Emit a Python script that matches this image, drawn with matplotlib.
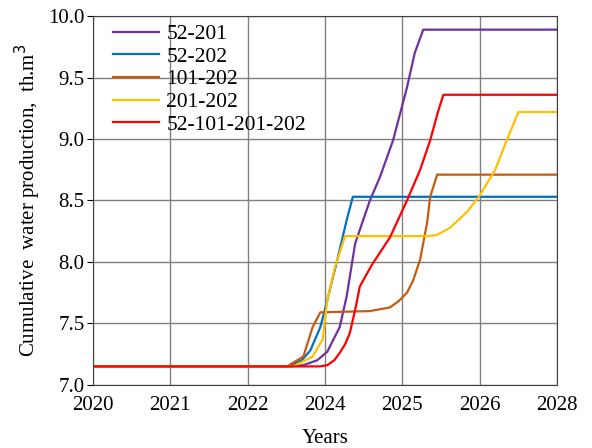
import matplotlib.pyplot as plt

plt.rcParams['font.family'] = ['Liberation Serif', 'DejaVu Serif']

tick_labels = ['2020', '2021', '2022', '2024', '2025', '2026', '2028']

# x in tick units (0 = first label, 6 = last label)
x_52_201 = [0, 2.55, 2.72, 2.90, 3.03, 3.19, 3.28, 3.39, 3.58, 3.71, 3.88, 4.06, 4.16, 4.27, 6]
y_52_201 = [7.15, 7.15, 7.16, 7.20, 7.27, 7.47, 7.72, 8.15, 8.50, 8.69, 8.99, 9.42, 9.70, 9.89, 9.89]

x_52_202 = [0, 2.52, 2.70, 2.81, 2.94, 3.03, 3.16, 3.28, 3.36, 6]
y_52_202 = [7.15, 7.15, 7.20, 7.28, 7.47, 7.69, 8.02, 8.34, 8.53, 8.53]

x_101_202 = [0, 2.51, 2.72, 2.84, 2.94, 3.58, 3.84, 3.95, 4.06, 4.14, 4.23, 4.32, 4.36, 4.45, 6]
y_101_202 = [7.15, 7.15, 7.23, 7.47, 7.59, 7.60, 7.63, 7.68, 7.75, 7.85, 8.02, 8.32, 8.53, 8.71, 8.71]

x_201_202 = [0, 2.59, 2.84, 2.97, 3.03, 3.13, 3.26, 4.32, 4.45, 4.62, 4.84, 5.00, 5.20, 5.35, 5.50, 6]
y_201_202 = [7.15, 7.15, 7.23, 7.37, 7.69, 7.96, 8.21, 8.21, 8.22, 8.28, 8.41, 8.54, 8.75, 8.99, 9.22, 9.22]

x_all = [0, 2.94, 3.03, 3.12, 3.19, 3.26, 3.32, 3.39, 3.45, 3.60, 3.84, 4.06, 4.23, 4.36, 4.46, 4.53, 6]
y_all = [7.15, 7.15, 7.16, 7.20, 7.26, 7.33, 7.42, 7.61, 7.80, 7.97, 8.20, 8.50, 8.75, 8.99, 9.22, 9.36, 9.36]

fig = plt.figure(figsize=(5.92, 4.48), dpi=100)
ax = fig.add_axes([0.157, 0.141, 0.784, 0.823])

ax.plot(x_52_201, y_52_201, color='#7030a0', lw=1.6, label='52-201')
ax.plot(x_52_202, y_52_202, color='#0070c0', lw=1.6, label='52-202')
ax.plot(x_101_202, y_101_202, color='#c55a11', lw=1.6, label='101-202')
ax.plot(x_201_202, y_201_202, color='#ffc000', lw=1.6, label='201-202')
ax.plot(x_all, y_all, color='#ff0000', lw=1.6, label='52-101-201-202')

ax.set_xlim(0, 6)
ax.set_ylim(7.0, 10.0)
ax.set_xticks(range(7))
ax.set_xticklabels(tick_labels)
ax.set_yticks([7.0, 7.5, 8.0, 8.5, 9.0, 9.5, 10.0])
ax.set_yticklabels(['7.0', '7.5', '8.0', '8.5', '9.0', '9.5', '10.0'])
ax.tick_params(axis='x', length=0, labelsize=15, pad=8)
ax.tick_params(axis='y', length=4, labelsize=15, pad=2)
ax.grid(True, color='#808080', lw=1)
for s in ax.spines.values():
    s.set_color('#404040')

ax.set_xlabel('Years', fontsize=15, labelpad=10)
ax.set_ylabel('Cumulative  water production,  th.m$^3$', fontsize=15, labelpad=4)
ax.legend(loc='upper left', bbox_to_anchor=(0.035, 0.99), frameon=False, fontsize=15.5,
          handlelength=2.1, labelspacing=0.12, borderaxespad=0, borderpad=0.2,
          handletextpad=0.35)

fig.savefig('out.png', dpi=100)
